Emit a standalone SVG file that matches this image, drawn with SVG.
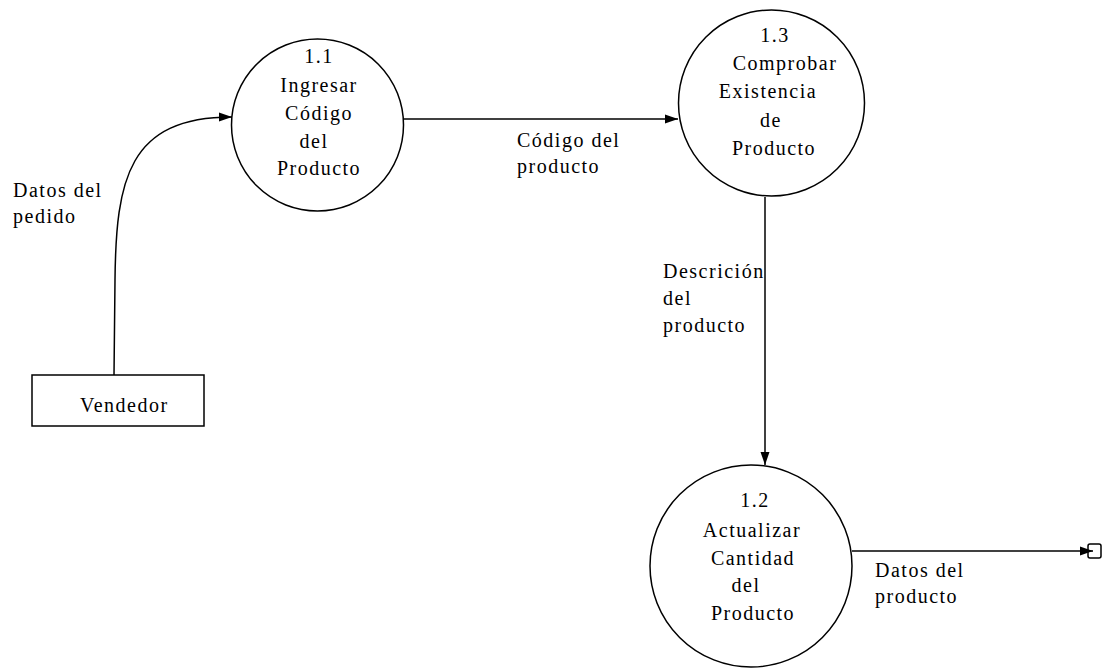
<svg xmlns="http://www.w3.org/2000/svg" width="1108" height="671" viewBox="0 0 1108 671">
<style>
.node{fill:#fff;stroke:#000;stroke-width:1.5}
.t{font-family:"Liberation Serif","DejaVu Serif",serif;font-size:20px;letter-spacing:1.5px;fill:#000}
.c{text-anchor:middle}
.flow{fill:none;stroke:#000;stroke-width:1.5}
</style>
<defs>
<marker id="ah" markerWidth="13" markerHeight="10" refX="13" refY="5" orient="auto" markerUnits="userSpaceOnUse">
<path d="M0,0.5 L13,5 L0,9.5 Z" fill="#000"/>
</marker>
</defs>
<rect width="1108" height="671" fill="#fff"/>
<g id="connectors">
<path class="flow" d="M114,375 L115,280 C116,180 128,117 232,117" marker-end="url(#ah)"/>
<path class="flow" d="M403,119 L678,119" marker-end="url(#ah)"/>
<path class="flow" d="M765,197 L765,465" marker-end="url(#ah)"/>
<path class="flow" d="M852,551 L1093,551" marker-end="url(#ah)"/>
<rect x="1088" y="544" width="13" height="14" rx="2" fill="none" stroke="#000" stroke-width="1.5"/>
<text class="t" x="13" y="197">Datos del</text>
<text class="t" x="13" y="223">pedido</text>
<text class="t" x="517" y="147">Código del</text>
<text class="t" x="517" y="173">producto</text>
<text class="t" x="663" y="278">Descrición</text>
<text class="t" x="663" y="305">del</text>
<text class="t" x="663" y="332">producto</text>
<text class="t" x="875" y="577">Datos del</text>
<text class="t" x="875" y="603">producto</text>
</g>
<g id="vendedor">
<rect class="node" x="32" y="375" width="172" height="51"/>
<text class="t" x="80" y="412">Vendedor</text>
</g>
<g id="p1_1">
<circle class="node" cx="317.5" cy="125" r="86"/>
<text class="t c" x="319" y="63">1.1</text>
<text class="t c" x="319" y="92">Ingresar</text>
<text class="t c" x="319" y="120">Código</text>
<text class="t c" x="314" y="148">del</text>
<text class="t c" x="319" y="175">Producto</text>
</g>
<g id="p1_3">
<circle class="node" cx="771.5" cy="103" r="93"/>
<text class="t c" x="775" y="42">1.3</text>
<text class="t c" x="785" y="70">Comprobar</text>
<text class="t c" x="768" y="98">Existencia</text>
<text class="t c" x="771" y="127">de</text>
<text class="t c" x="774" y="155">Producto</text>
</g>
<g id="p1_2">
<circle class="node" cx="751" cy="566" r="101"/>
<text class="t c" x="755" y="507">1.2</text>
<text class="t c" x="752" y="537">Actualizar</text>
<text class="t c" x="753" y="565">Cantidad</text>
<text class="t c" x="746" y="592">del</text>
<text class="t c" x="753" y="620">Producto</text>
</g>
</svg>
